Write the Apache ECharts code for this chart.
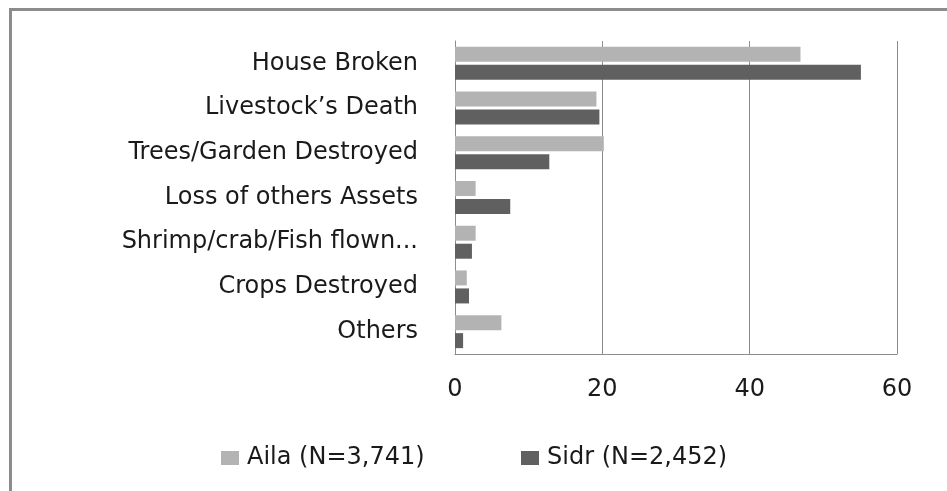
<!DOCTYPE html>
<html>
<head>
<meta charset="utf-8">
<script src="https://cdn.jsdelivr.net/npm/echarts@6/dist/echarts.min.js"></script>
<style>
  html, body { margin: 0; padding: 0; background: #fff; overflow: hidden; }
  #frame { position: absolute; left: 9px; top: 8px; width: 1000px; height: 600px;
           border-top: 3px solid #8c8c8c; border-left: 3px solid #8c8c8c; }
  #main { position: absolute; left: 0; top: 0; width: 947px; height: 491px; }
</style>
</head>
<body>
<div id="frame"></div>
<div id="main"></div>
<script>
const categories = ['House Broken', 'Livestock\u2019s Death', 'Trees/Garden Destroyed',
  'Loss of others Assets', 'Shrimp/crab/Fish flown...', 'Crops Destroyed', 'Others'];
const aila = [46.9, 19.2, 20.2, 2.8, 2.8, 1.6, 6.3];
const sidr = [55.1, 19.6, 12.8, 7.5, 2.3, 1.9, 1.1];
const seriesNames = ['Aila (N=3,741)', 'Sidr (N=2,452)'];

const font = 'DejaVu Sans';
const chart = echarts.init(document.getElementById('main'));

const legendBase = {
  top: 441,
  icon: 'rect',
  itemWidth: 18,
  itemHeight: 14,
  textStyle: { fontFamily: font, fontSize: 24, color: '#1a1a1a', padding: [0, 0, 0, 3] }
};

chart.setOption({
  animation: false,
  color: ['#b3b3b3', '#606060'],
  textStyle: { fontFamily: font },
  grid: { left: 455, right: 50, top: 41, bottom: 137, containLabel: false },
  legend: [
    Object.assign({ data: [seriesNames[0]], left: 216 }, legendBase),
    Object.assign({ data: [seriesNames[1]], left: 516 }, legendBase)
  ],
  xAxis: {
    type: 'value',
    min: 0,
    max: 60,
    interval: 20,
    axisLine: { show: true, lineStyle: { color: '#8c8c8c', width: 1 } },
    axisTick: { show: false },
    splitLine: { show: true, lineStyle: { color: '#8c8c8c', width: 1 } },
    axisLabel: { fontFamily: font, fontSize: 24, color: '#1a1a1a', margin: 24 }
  },
  yAxis: {
    type: 'category',
    inverse: true,
    data: categories,
    axisLine: { show: true, lineStyle: { color: '#8c8c8c', width: 1 } },
    axisTick: { show: false },
    axisLabel: { fontFamily: font, fontSize: 24, color: '#1a1a1a', margin: 37 }
  },
  series: [{
    name: seriesNames[0],
    type: 'bar',
    data: aila,
    barWidth: 15,
    barGap: '20%'
  }, {
    name: seriesNames[1],
    type: 'bar',
    data: sidr,
    barWidth: 15,
    barGap: '20%'
  }]
});
</script>
</body>
</html>
